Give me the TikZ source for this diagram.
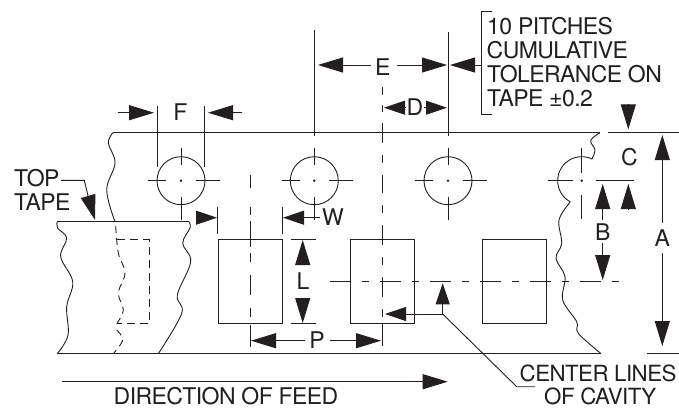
\documentclass[tikz,border=0pt]{standalone}
\usepackage{fontspec}
\setmainfont{TeX Gyre Heros}[LetterSpace=-2.5]
\usetikzlibrary{arrows.meta}
\definecolor{ink}{HTML}{231F20}
\tikzset{
  ln/.style={draw=ink,line width=0.9pt},
  tip/.style={ln,-{Triangle[length=25pt,width=15pt,color=ink]}},
  stip/.style={ln,-{Triangle[length=21pt,width=14pt,color=ink]}},
  txt/.style={text=ink,inner sep=0pt,font=\fontsize{23}{24}\selectfont},
  tighttxt/.style={txt,anchor=base west,font=\fontsize{22.3}{24}\selectfont},
  base/.style={txt,anchor=base},
  wave/.style={ln,smooth,tension=0.6},
}
\begin{document}
\begin{tikzpicture}[x=1pt,y=-1pt]
\useasboundingbox (0,0) rectangle (679,408);
\fill[white] (0,0) rectangle (679,408);
% tape edges
\draw[ln] (113,132.7) -- (600,132.7);
\draw[ln] (608,132.7) -- (679,132.7);
\draw[ln] (57,353.7) -- (600.7,353.7);
\draw[ln] (647,353.7) -- (679,353.7);
\draw[wave] plot coordinates {(113,132.7) (108.3,143) (115,163) (106.7,190) (115,221.7)};
\draw[wave,dash pattern=on 7pt off 5pt] plot coordinates {(115.7,226) (118.3,253) (125,273) (118.3,293) (123.3,310) (116.7,323.7)};
\draw[wave,dash pattern=on 7pt off 5pt] plot coordinates {(116.7,330) (122.7,340) (113.3,353.7)};
\draw[wave] plot coordinates {(600,132.7) (590.7,140.5) (595,150) (591.7,159.3)};
\draw[wave] plot coordinates {(570,202.3) (559,220) (561.7,243.3) (556,258.3) (565,276.7) (562.7,300) (576.7,321.7) (578.3,333.3) (600.7,353.3)};
% top tape
\draw[ln] (57,221.7) -- (189,221.7);
\draw[wave] plot coordinates {(57.3,221.7) (57.5,228) (66.7,238) (60.7,256.7) (72.7,281.7) (66.7,306.7) (68,335) (57.3,353.7)};
\draw[wave] plot coordinates {(189,221.7) (190,228) (182.7,243.3) (190.7,261.7) (177.3,295) (181.7,313.3) (158.3,353.7)};
\draw[ln,dash pattern=on 8pt off 5pt] (117.3,239.3) -- (149,239.3) -- (149,323.7) -- (116.7,323.7);
% holes
\foreach \c in {181,314.3,448}{
  \draw[ln] (\c,180.7) circle[radius=24pt];
  \fill[ink] (\c,180.7) circle[radius=1.4pt];
  \draw[ln] (\c-32.7,180.7) -- (\c-14.7,180.7);
  \draw[ln] (\c+14.7,180.7) -- (\c+39,180.7);
  \draw[ln] (\c,148) -- (\c,165);
  \draw[ln] (\c,196.7) -- (\c,220);
}
\draw[ln] plot[domain=65:242,samples=60] ({581.7+24*cos(\x)},{180.7-24*sin(\x)});
\fill[ink] (581.7,180.7) circle[radius=1.4pt];
\draw[ln] (548.3,180.7) -- (573.3,180.7);
\draw[ln] (581.7,148) -- (581.7,173);
\draw[ln] (581.7,195) -- (581.7,219);
% cavities
\foreach \x in {218.7,350.7,482.7}{\draw[ln] (\x,239.3) rectangle +(64,84.4);}
% cavity centre lines
\foreach \a/\b in {175/188,207/215,221/247,253/262,275/295,308/317,325/347}{\draw[ln] (250.5,\a) -- (250.5,\b);}
\foreach \a/\b in {87/95,105/112,123/143,155/163,175/193,205/213,225/245,257/265,277/297,309/317,323.7/346}{\draw[ln] (382.7,\a) -- (382.7,\b);}
\draw[ln,dash pattern=on 21pt off 11pt on 7pt off 11pt] (330,281.3) -- (621,281.3);
% F
\draw[ln] (157.7,106) -- (157.7,167);
\draw[ln] (204.3,106) -- (204.3,167);
\draw[tip] (117.7,112.7) -- (154,112.7);
\draw[tip] (241.7,112.7) -- (208,112.7);
\node[base] (f) at (180.3,120) {F};
% W
\draw[ln] (217,206.7) -- (217,234);
\draw[ln] (282.7,206.7) -- (282.7,234);
\draw[stip] (196.5,217.7) -- (217,217.7);
\draw[stip] (320,217.7) -- (283,217.7);
\node[base] (w) at (333,225.5) {W};
% L
\draw[ln] (291.3,239.3) -- (316,239.3);
\draw[ln] (291.3,323.7) -- (316,323.7);
\draw[tip] (302.7,264) -- (302.7,240);
\draw[tip] (302.7,298) -- (302.7,323);
\node[base] (l) at (303,289.5) {L};
% P
\draw[tip] (305,340.7) -- (251,340.7);
\draw[tip] (330,340.7) -- (381,340.7);
\node[base] (p) at (317,348.5) {P};
% feed
\draw[tip] (62,381.7) -- (447.7,381.7);
\node[base] (dir) at (226,404.3) {DIRECTION OF FEED};
% E
\draw[ln] (314.3,30) -- (314.3,136);
\draw[ln] (448,32) -- (448,136);
\draw[tip] (371,65) -- (318,65);
\draw[tip] (396.7,65) -- (447,65);
\node[base] (e) at (382.7,75) {E};
\draw[tip] (481.7,65) -- (450,65);
% bracket
\draw[ln] (492,11.3) -- (481.7,11.3) -- (481.7,114.7) -- (492,114.7);
\node[txt,anchor=base west] (t1) at (487,34.3) {10 PITCHES};
\node[txt,anchor=base west] (t2) at (486.5,58.3) {CUMULATIVE};
\node[txt,anchor=base west] (t3) at (487,82.7) {TOLERANCE ON};
\node[txt,anchor=base west] (t4) at (487,106.7) {TAPE ±0.2};
% D
\draw[stip] (406,107.7) -- (384,107.7);
\draw[stip] (424,107.7) -- (447,107.7);
\node[base] (d) at (415,115.5) {D};
% C
\draw[tip] (628.3,104) -- (628.3,129.3);
\node[base] (c) at (629.3,165.3) {C};
\draw[ln] (596,180.7) -- (634,180.7);
\draw[tip] (628.3,209.3) -- (628.3,184);
% B
\draw[tip] (602.7,220) -- (602.7,184);
\node[base] (b) at (602.7,240) {B};
\draw[tip] (602.7,243) -- (602.7,280);
% A
\draw[tip] (662.3,223) -- (662.3,135);
\node[base] (a) at (662.3,246) {A};
\draw[tip] (662.3,253) -- (662.3,346);
% center lines leader
\coordinate (j) at (442.7,314);
\draw[stip] (j) -- (385,314);
\draw[stip] (j) -- (442.7,283.3);
\draw[ln] (j) -- (516.7,386.7) -- (535,386.7);
\node[tighttxt] (cl) at (519.5,381.7) {CENTER LINES};
\node[tighttxt] (oc) at (544,404.5) {OF CAVITY};
% top tape label
\node[txt,anchor=base west] (top) at (14,186) {TOP};
\node[txt,anchor=base west] (tape) at (14,210.7) {TAPE};
\draw[ln] (61,180.3) -- (84.3,180.3) -- (88,195.7);
\draw[tip] (88,195.7) -- (95,220);
\end{tikzpicture}
\end{document}
